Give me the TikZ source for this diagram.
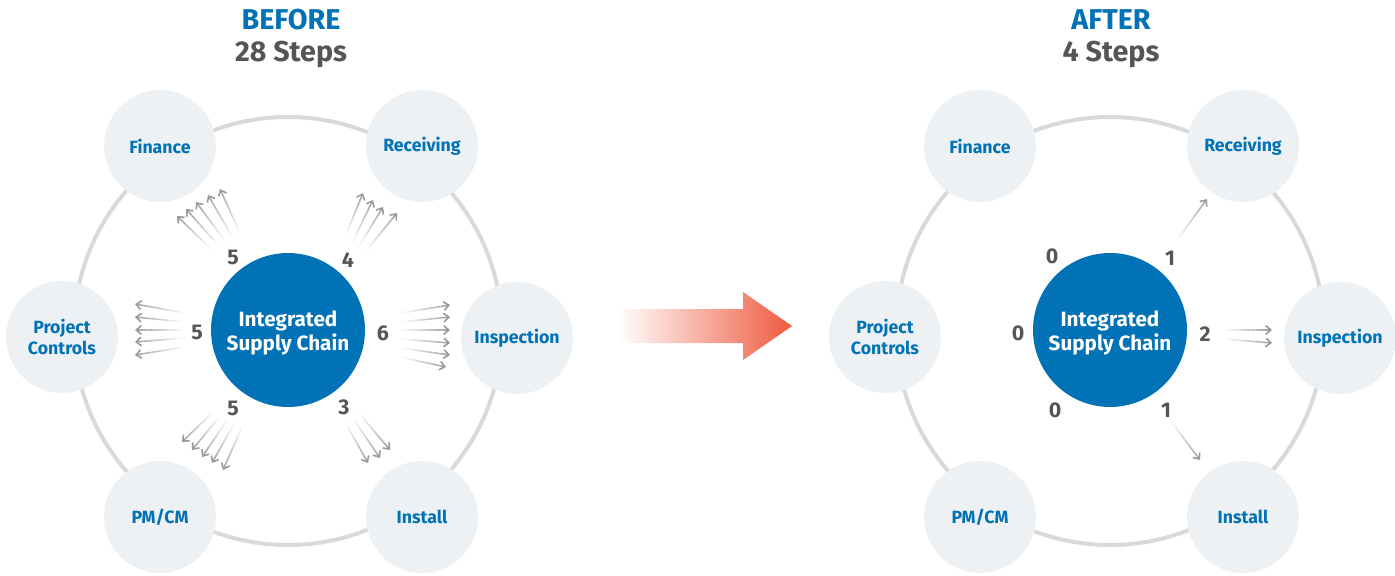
\documentclass[tikz,border=0pt]{standalone}
\usepackage{fontspec}
\setmainfont{Fira Sans}
\usetikzlibrary{arrows.meta,calc}
\definecolor{isblue}{HTML}{0072B5}
\definecolor{satfill}{HTML}{EEF1F3}
\definecolor{ringgray}{HTML}{D9D9D9}
\definecolor{numgray}{HTML}{555555}
\definecolor{arrgray}{HTML}{9A9A9E}
\definecolor{bigarrow}{HTML}{EE5A3E}
\newcommand\fadearr[2]{%
  \foreach \k in {0,...,10}{%
    \pgfmathsetmacro\pa{\k/12}\pgfmathsetmacro\pb{(\k+1)/12}%
    \pgfmathtruncatemacro\sh{4+\k*8}%
    \draw[arrline, arrgray!\sh!white] ($(#1)!\pa!(#2)$) -- ($(#1)!\pb!(#2)$);
  }%
  \draw[arrline, arrgray, -{Straight Barb[length=3.8pt,width=6.5pt]}] ($(#1)!0.9167!(#2)$) -- (#2);
}
\tikzset{
  x=0.75pt, y=-0.75pt,
  sat/.style={circle, fill=satfill, minimum size=84pt, inner sep=0pt, align=center, text=isblue,
    font=\bfseries\fontsize{13.3}{15.75}\selectfont},
  hub/.style={circle, fill=isblue, minimum size=115.5pt, inner sep=0pt, align=center, text=white,
    font=\bfseries\fontsize{15.5}{18}\selectfont},
  num/.style={text=numgray, inner sep=0pt, font=\bfseries\fontsize{16}{18}\selectfont},
  ring/.style={draw=ringgray, line width=3pt},
  arrline/.style={line width=1.2pt},
  headblue/.style={text=isblue, font=\bfseries\fontsize{21.5}{24}\selectfont},
  headgray/.style={text=numgray, font=\bfseries\fontsize{21.5}{24}\selectfont},
}
\begin{document}
\begin{tikzpicture}
\useasboundingbox (0,0) rectangle (1395,575);
% ===== BEFORE =====
\node[headblue] (bt) at (291,20) {BEFORE};
\node[headgray] (bs) at (291,55) {28 Steps};
\draw[ring] (288,331) circle (214);
\node[sat] (Lfin) at (160,146) {Finance};
\node[sat] (Lrec) at (422,146) {Receiving};
\node[sat] (Lpc)  at (62,337) {Project\\Controls};
\node[sat] (Lins) at (517,338) {Inspection};
\node[sat] (Lpm)  at (160,517) {PM/CM};
\node[sat] (Linst) at (422,517) {Install};
\node[hub] (Lhub) at (288,330) {\rule{0pt}{15.5pt}Integrated\\Supply Chain};
\node[num] (Ln1) at (233,257) {5};
\node[num] (Ln2) at (348,260) {4};
\node[num] (Ln3) at (197,332) {5};
\node[num] (Ln4) at (383,333) {6};
\node[num] (Ln5) at (233,408) {5};
\node[num] (Ln6) at (344,407) {3};
% arrows
\foreach \tx/\ty/\hx/\hy [count=\i] in {
  212/250/177/216, 219/246/186/209, 226/242/196/202, 233/238/208/195, 240/233/220/189,
  345/237/363/193, 352/243/373/200, 358/248/383/207, 365/252/397/213,
  185/313/135/304, 185/322/135/317, 185/330/135/330, 185/338/135/342, 185/347/135/355,
  400/313/450/305, 400/322/450/317, 400/330/450/330, 400/339/450/343, 400/348/450/355, 400/357/446/367,
  213/412/182/442, 221/415/192/450, 228/419/202/457, 235/422/212/463, 243/425/223/470,
  345/422/368/463, 352/417/380/458, 358/412/390/450,
  1177/240/1207/199, 1223/330/1272/330, 1223/339/1272/343, 1170/420/1200/460}{
  \coordinate (t\i) at (\tx,\ty);
  \coordinate (h\i) at (\hx,\hy);
  \fadearr{t\i}{h\i}
}
% ===== big arrow =====
\coordinate (a1) at (617,309);
\coordinate (a2) at (743,309);
\coordinate (a3) at (743,292);
\coordinate (a4) at (792,326);
\coordinate (a5) at (743,360);
\coordinate (a6) at (743,343);
\coordinate (a7) at (617,343);
\shade[left color=white, right color=bigarrow] (a1) -- (a2) -- (a3) -- (a4) -- (a5) -- (a6) -- (a7) -- cycle;
% ===== AFTER =====
\node[headblue] (at) at (1111,20) {AFTER};
\node[headgray] (as) at (1111,55) {4 Steps};
\draw[ring] (1110,331) circle (214);
\node[sat] (Rfin) at (980,146) {Finance};
\node[sat] (Rrec) at (1243,146) {Receiving};
\node[sat] (Rpc)  at (885,337) {Project\\Controls};
\node[sat] (Rins) at (1340,338) {Inspection};
\node[sat] (Rpm)  at (980,517) {PM/CM};
\node[sat] (Rinst) at (1243,517) {Install};
\node[hub] (Rhub) at (1110,330) {\rule{0pt}{15.5pt}Integrated\\Supply Chain};
\node[num] (Rn1) at (1052,256) {0};
\node[num] (Rn2) at (1170,258) {1};
\node[num] (Rn3) at (1018,333) {0};
\node[num] (Rn4) at (1205,334) {2};
\node[num] (Rn5) at (1055,410) {0};
\node[num] (Rn6) at (1166,410) {1};
\end{tikzpicture}
\end{document}
